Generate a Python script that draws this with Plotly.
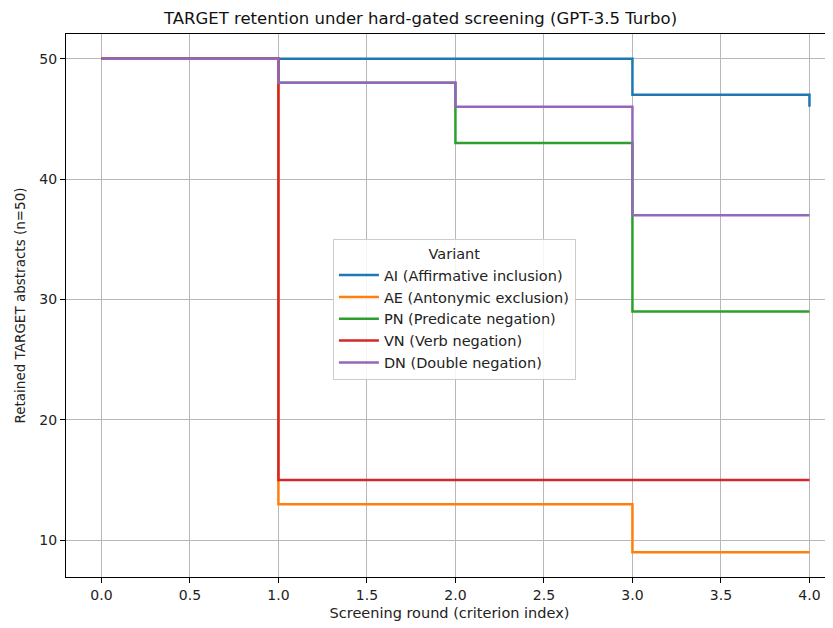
import plotly.graph_objects as go

rounds = [0, 1, 2, 3, 4]
series_names = [
    "AI (Affirmative inclusion)",
    "AE (Antonymic exclusion)",
    "PN (Predicate negation)",
    "VN (Verb negation)",
    "DN (Double negation)",
]
ai = [50, 50, 50, 47, 46]
ae = [50, 13, 13, 9, 9]
pn = [50, 48, 43, 29, 29]
vn = [50, 15, 15, 15, 15]
dn = [50, 48, 46, 37, 37]
colors = ["#1f77b4", "#ff7f0e", "#2ca02c", "#d62728", "#9467bd"]
x_ticks = [0.0, 0.5, 1.0, 1.5, 2.0, 2.5, 3.0, 3.5, 4.0]
y_ticks = [10, 20, 30, 40, 50]

fig = go.Figure()
for name, vals, c in zip(series_names, [ai, ae, pn, vn, dn], colors):
    fig.add_trace(go.Scatter(x=rounds, y=vals, mode="lines", name=name,
                             line=dict(color=c, width=2.5, shape="hv")))

font = "DejaVu Sans"
fig.update_layout(
    width=825, height=620,
    margin=dict(l=58, r=0, t=26, b=51),
    plot_bgcolor="white", paper_bgcolor="white",
    font=dict(family=font, size=14, color="#222"),
    title=dict(text="TARGET retention under hard-gated screening (GPT-3.5 Turbo)",
               x=0.5, xanchor="center", y=0.984, yanchor="middle",
               font=dict(size=16.5, family=font, color="#111")),
    legend=dict(
        title=dict(text="Variant", side="top center", font=dict(size=14.5)),
        x=0.348, y=0.622, xanchor="left", yanchor="top",
        bgcolor="rgba(255,255,255,0.85)", bordercolor="#ccc", borderwidth=1,
        font=dict(size=14.5), tracegroupgap=0, itemwidth=40,
    ),
)
fig.update_xaxes(
    range=[-0.2, 4.133], tickvals=x_ticks, ticktext=[f"{v:.1f}" for v in x_ticks],
    showgrid=True, gridcolor="#b8b8b8", gridwidth=1, zeroline=False,
    showline=True, linecolor="black", linewidth=1, mirror=True,
    ticks="outside", ticklen=5, tickcolor="black", automargin=False,
    tickfont=dict(size=14),
    title=dict(text="Screening round (criterion index)", font=dict(size=14.5), standoff=6),
)
fig.update_yaxes(
    range=[6.95, 52.05], tickvals=y_ticks,
    showgrid=True, gridcolor="#b8b8b8", gridwidth=1, zeroline=False,
    showline=True, linecolor="black", linewidth=1,
    ticks="outside", ticklen=5, tickcolor="black", automargin=False,
    tickfont=dict(size=14),
    title=dict(text="Retained TARGET abstracts (n=50)", font=dict(size=13.5), standoff=10),
)
fig.write_html("out.html")
